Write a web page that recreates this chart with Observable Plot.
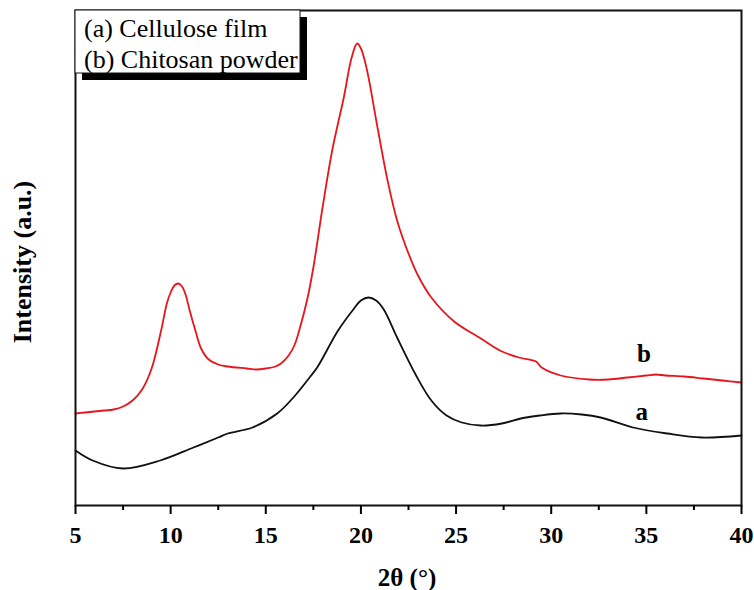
<!DOCTYPE html>
<html><head><meta charset="utf-8">
<script src="https://cdn.jsdelivr.net/npm/d3@7"></script>
<script src="https://cdn.jsdelivr.net/npm/@observablehq/plot@0.6"></script>
<style>body{margin:0;background:#fff}</style>
</head><body><div id="chart"></div>
<script>
// (a) Cellulose film
const celluloseX = [5.0,5.9,7.5,9.45,11.2,12.5,13.0,14.3,15.6,16.45,17.3,17.7,18.8,19.6,20.0,20.4,20.8,21.2,21.9,22.9,23.7,24.5,25.3,26.3,27.4,28.4,29.4,30.5,31.6,32.6,34.3,36.1,37.9,40.0];
const celluloseY = [55,45,37,45,58,68,72,78,92,108,128,138,175,196,205,208,205,196,168,130,105,90,83,80,82,87,90,92,91,88,78,72,68,70];
// (b) Chitosan powder
const chitosanX = [5.0,5.5,6.0,6.5,7.0,7.5,8.0,8.5,9.0,9.5,9.8,10.0,10.2,10.4,10.6,10.8,11.0,11.3,11.6,12.0,12.5,13.0,14.0,14.5,15.0,15.5,15.8,16.2,16.5,16.8,17.2,17.5,18.0,18.5,19.1,19.5,19.8,20.0,20.3,20.9,21.4,21.9,22.5,23.0,23.7,24.9,26.3,27.3,28.3,29.2,29.5,30.5,32.0,33.0,34.0,35.0,35.5,36.0,37.0,38.0,39.0,40.0];
const chitosanY = [92,93,94,95,96,99,105,116,137,175,202,213,220,222,219,210,195,175,157,146,141,139,137,136,137,139,142,150,160,178,208,238,300,356,408,447,462,457,437,375,325,285,252,230,208,184,167,155,148,144,138,130,126,126,128,130,131,130,129,127,125,123];

const majorTicks = [5,10,15,20,25,30,35,40];
const minorTicks = [7.5,12.5,17.5,22.5,27.5,32.5,37.5];
const legendLabels = ["(a) Cellulose film", "(b) Chitosan powder"];
const curveLabelText = ["a", "b"];
const curveLabelX = [34.76, 34.87];
const curveLabelY = [94, 152];
const xLabel = "2θ (°)";
const yLabel = "Intensity (a.u.)";

const cellulose = celluloseX.map((x, i) => ({x, y: celluloseY[i]}));
const chitosan = chitosanX.map((x, i) => ({x, y: chitosanY[i]}));
const curveLabels = curveLabelText.map((t, i) => ({label: t, x: curveLabelX[i], y: curveLabelY[i]}));

const serif = '"Liberation Serif", "Times New Roman", Times, serif';

const svg = Plot.plot({
  width: 754, height: 590,
  marginLeft: 75, marginRight: 13, marginTop: 10, marginBottom: 85,
  style: {fontFamily: serif, fontSize: "24px", background: "white", color: "black"},
  x: {domain: [5, 40]},
  y: {domain: [0, 495], axis: null},
  marks: [
    Plot.line(cellulose, {x: "x", y: "y", stroke: "#111", strokeWidth: 1.8, curve: "catmull-rom"}),
    Plot.line(chitosan, {x: "x", y: "y", stroke: "#e8161c", strokeWidth: 1.8, curve: "catmull-rom"}),
    Plot.frame({stroke: "#111", strokeWidth: 2}),
    Plot.axisX({ticks: majorTicks, tickSize: 9, tickPadding: 11, fontSize: 24, fontWeight: "bold", label: null, strokeWidth: 2, tickFormat: d => String(d)}),
    Plot.axisX({ticks: minorTicks, tickSize: 5, text: null, label: null, strokeWidth: 2}),
    Plot.text(curveLabels, {x: "x", y: "y", text: "label", fontSize: 25, fontWeight: "bold"})
  ]
});

const root = d3.select(svg);
// axis titles
root.append("text").attr("x", 407).attr("y", 577).attr("dy", "0.35em")
  .attr("text-anchor", "middle").style("font-family", serif).style("font-size", "25px").style("font-weight", "bold")
  .attr("fill", "#000").text(xLabel);
root.append("text").attr("transform", "translate(22,262) rotate(-90)").attr("dy", "0.35em")
  .attr("text-anchor", "middle").style("font-family", serif).style("font-size", "26px").style("font-weight", "bold")
  .attr("fill", "#000").text(yLabel);

// legend box with drop shadow
const g = root.append("g");
g.append("rect").attr("x", 82).attr("y", 17).attr("width", 225).attr("height", 63).attr("fill", "#000");
g.append("rect").attr("x", 75).attr("y", 10).attr("width", 225).attr("height", 63).attr("fill", "#fff").attr("stroke", "#111").attr("stroke-width", 1);
legendLabels.forEach((t, i) => {
  g.append("text").attr("x", 84).attr("y", 37 + i * 31).attr("text-anchor", "start")
    .style("font-family", serif).style("font-size", "26px").style("font-weight", "normal").attr("fill", "#000").text(t);
});

document.getElementById("chart").appendChild(svg);
</script>
</body></html>
